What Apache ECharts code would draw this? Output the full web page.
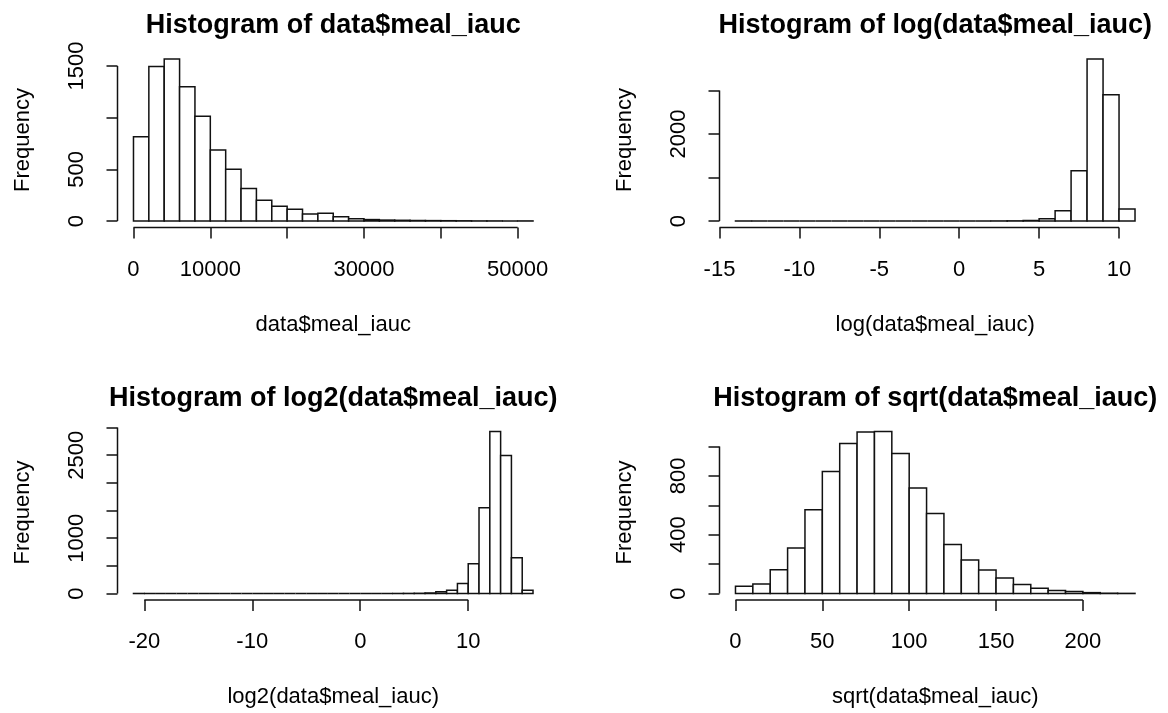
<!DOCTYPE html>
<html>
<head>
<meta charset="utf-8">
<title>Histograms of meal_iauc</title>
<script src="https://cdn.jsdelivr.net/npm/echarts@6.0.0/dist/echarts.min.js"></script>
<style>
  html, body { margin: 0; padding: 0; background: #fff; }
  #chart { width: 1168px; height: 713px; }
</style>
</head>
<body>
<div id="chart"></div>
<script>
// raw values, bins of 2000
const iaucBreaks = [0, 2000, 4000, 6000, 8000, 10000, 12000, 14000, 16000, 18000, 20000, 22000, 24000,
  26000, 28000, 30000, 32000, 34000, 36000, 38000, 40000, 42000, 44000, 46000, 48000, 50000, 52000];
const iaucCounts = [815, 1495, 1568, 1300, 1015, 687, 500, 315, 200, 142, 115, 68, 76,
  42, 22, 14, 9, 7, 5, 4, 3, 2, 1, 1, 0, 1];
const iaucXTicks = [0, 10000, 20000, 30000, 40000, 50000];
const iaucXLabels = [0, 10000, 30000, 50000];
const iaucYTicks = [0, 500, 1000, 1500];
const iaucYLabels = [0, 500, 1500];

// natural log, bins of 1
const lnBreaks = [-14, -13, -12, -11, -10, -9, -8, -7, -6, -5, -4, -3, -2, -1, 0, 1, 2, 3, 4, 5, 6, 7, 8, 9, 10, 11];
const lnCounts = [1, 0, 0, 0, 0, 0, 0, 0, 0, 0, 0, 0, 0, 0, 0, 0, 2, 4, 12, 50, 237, 1157, 3724, 2904, 276];
const lnXTicks = [-15, -10, -5, 0, 5, 10];
const lnXLabels = [-15, -10, -5, 0, 5, 10];
const lnYTicks = [0, 1000, 2000, 3000];
const lnYLabels = [0, 2000];

// log2, bins of 1
const log2Breaks = [-21, -20, -19, -18, -17, -16, -15, -14, -13, -12, -11, -10, -9, -8, -7, -6, -5, -4, -3,
  -2, -1, 0, 1, 2, 3, 4, 5, 6, 7, 8, 9, 10, 11, 12, 13, 14, 15, 16];
const log2Counts = [1, 0, 0, 0, 0, 0, 0, 0, 0, 0, 0, 0, 0, 0, 0, 0, 0, 0, 0,
  0, 0, 0, 0, 0, 1, 2, 4, 10, 30, 60, 180, 536, 1548, 2928, 2494, 645, 60];
const log2XTicks = [-20, -10, 0, 10];
const log2XLabels = [-20, -10, 0, 10];
const log2YTicks = [0, 500, 1000, 1500, 2000, 2500, 3000];
const log2YLabels = [0, 1000, 2500];

// square root, bins of 10
const sqrtBreaks = [0, 10, 20, 30, 40, 50, 60, 70, 80, 90, 100, 110, 120, 130, 140, 150, 160, 170, 180,
  190, 200, 210, 220, 230];
const sqrtCounts = [50, 64, 161, 309, 570, 830, 1020, 1098, 1102, 952, 718, 545, 334, 228, 160, 105, 62,
  36, 20, 14, 6, 2, 1];
const sqrtXTicks = [0, 50, 100, 150, 200];
const sqrtXLabels = [0, 50, 100, 150, 200];
const sqrtYTicks = [0, 200, 400, 600, 800, 1000];
const sqrtYLabels = [0, 400, 800];

const ink = '#111';
const font = '"Liberation Sans", Arial, Helvetica, sans-serif';
const plotW = 431.5, plotH = 175;

const panels = [
  { title: 'Histogram of data$meal_iauc', xName: 'data$meal_iauc', breaks: iaucBreaks, counts: iaucCounts,
    xTicks: iaucXTicks, xLabels: iaucXLabels, yTicks: iaucYTicks, yLabels: iaucYLabels, left: 117.5, top: 52.5 },
  { title: 'Histogram of log(data$meal_iauc)', xName: 'log(data$meal_iauc)', breaks: lnBreaks, counts: lnCounts,
    xTicks: lnXTicks, xLabels: lnXLabels, yTicks: lnYTicks, yLabels: lnYLabels, left: 719.5, top: 52.5 },
  { title: 'Histogram of log2(data$meal_iauc)', xName: 'log2(data$meal_iauc)', breaks: log2Breaks, counts: log2Counts,
    xTicks: log2XTicks, xLabels: log2XLabels, yTicks: log2YTicks, yLabels: log2YLabels, left: 117.5, top: 425 },
  { title: 'Histogram of sqrt(data$meal_iauc)', xName: 'sqrt(data$meal_iauc)', breaks: sqrtBreaks, counts: sqrtCounts,
    xTicks: sqrtXTicks, xLabels: sqrtXLabels, yTicks: sqrtYTicks, yLabels: sqrtYLabels, left: 719.5, top: 425 }
];

const textStyle = { color: '#000', fontSize: 22, fontFamily: font };
const plain = v => String(v);

let grids = [], xAxes = [], yAxes = [], series = [], graphics = [];

panels.forEach((p, i) => {
  // R style limits: 4% extension on both sides
  const b0 = p.breaks[0], bN = p.breaks[p.breaks.length - 1];
  const xExt = (bN - b0) * 0.04;
  const yMax = Math.max(...p.counts);

  grids.push({ left: p.left, top: p.top, width: plotW, height: plotH, outerBoundsMode: 'none' });

  xAxes.push({
    type: 'value', gridIndex: i, min: b0 - xExt, max: bN + xExt,
    axisLine: { show: false, onZero: false }, splitLine: { show: false },
    axisTick: { show: true, length: 11, customValues: p.xTicks, lineStyle: { color: ink, width: 1.5 } },
    axisLabel: { customValues: p.xLabels, margin: 31, formatter: plain, ...textStyle },
    name: p.xName, nameLocation: 'middle', nameGap: 86, nameTextStyle: textStyle
  });

  yAxes.push({
    type: 'value', gridIndex: i, min: -yMax * 0.04, max: yMax * 1.04,
    axisLine: { show: false, onZero: false }, splitLine: { show: false },
    axisTick: { show: true, length: 11, customValues: p.yTicks, lineStyle: { color: ink, width: 1.5 } },
    axisLabel: { customValues: p.yLabels, rotate: 90, margin: 30, formatter: plain, ...textStyle },
    name: 'Frequency', nameLocation: 'middle', nameGap: 84, nameTextStyle: textStyle
  });

  // histogram bars
  series.push({
    type: 'custom', xAxisIndex: i, yAxisIndex: i, silent: true,
    data: p.counts.map((c, k) => [p.breaks[k], p.breaks[k + 1], c]),
    encode: { x: [0, 1], y: 2 },
    renderItem: function (params, api) {
      const a = api.coord([api.value(0), api.value(2)]);
      const b = api.coord([api.value(1), 0]);
      return {
        type: 'rect',
        shape: { x: a[0], y: a[1], width: b[0] - a[0], height: b[1] - a[1] },
        style: { fill: '#fff', stroke: ink, lineWidth: 1.5 }
      };
    }
  });

  // axis lines only from first to last tick, like base R
  series.push({
    type: 'custom', xAxisIndex: i, yAxisIndex: i, silent: true,
    data: [[p.xTicks[0], p.xTicks[p.xTicks.length - 1], p.yTicks[0], p.yTicks[p.yTicks.length - 1]]],
    encode: { x: [0, 1], y: [2, 3] },
    renderItem: function (params, api) {
      const cs = params.coordSys;
      const bottom = cs.y + cs.height;
      const x0 = api.coord([api.value(0), 0])[0];
      const x1 = api.coord([api.value(1), 0])[0];
      const y0 = api.coord([0, api.value(2)])[1];
      const y1 = api.coord([0, api.value(3)])[1];
      return {
        type: 'group',
        children: [
          { type: 'line', shape: { x1: x0, y1: bottom, x2: x1, y2: bottom }, style: { stroke: ink, lineWidth: 1.5 } },
          { type: 'line', shape: { x1: cs.x, y1: y0, x2: cs.x, y2: y1 }, style: { stroke: ink, lineWidth: 1.5 } }
        ]
      };
    }
  });

  graphics.push({
    type: 'text', x: p.left + plotW / 2, y: p.top - 26.5,
    style: { text: p.title, align: 'center', verticalAlign: 'middle', fill: '#000',
      fontSize: 27, fontWeight: 'bold', fontFamily: font }
  });
});

const myChart = echarts.init(document.getElementById('chart'));
myChart.setOption({
  animation: false,
  backgroundColor: '#fff',
  grid: grids,
  xAxis: xAxes,
  yAxis: yAxes,
  series: series,
  graphic: graphics
});
</script>
</body>
</html>
